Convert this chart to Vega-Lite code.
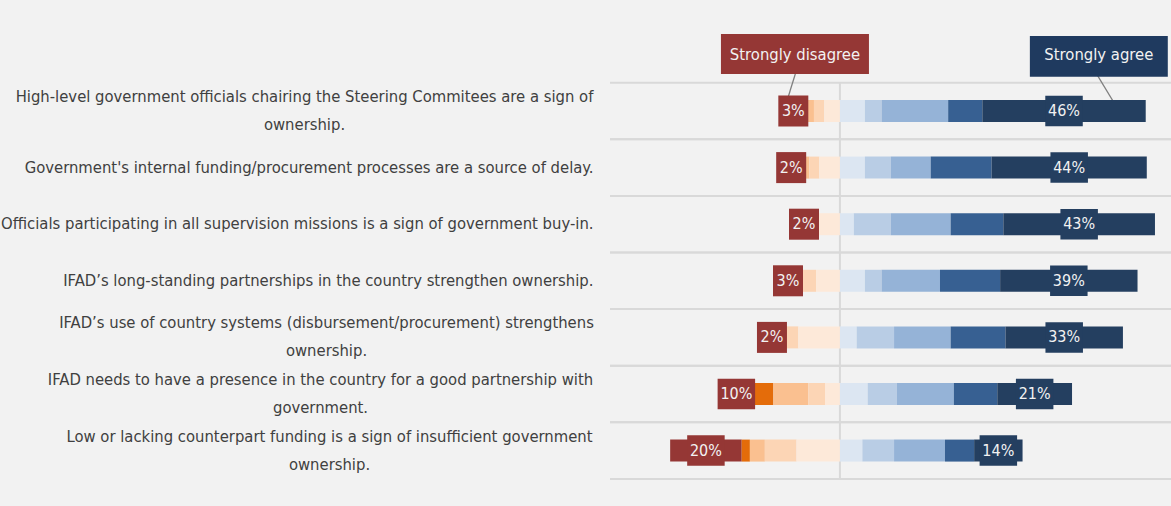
{
  "$schema": "https://vega.github.io/schema/vega-lite/v6.json",
  "width": 561,
  "height": 452.8,
  "autosize": {"type": "none"},
  "padding": {"left": 610, "top": 26.1, "right": 0, "bottom": 27},
  "background": "#F2F2F2",
  "config": {"view": {"stroke": null}},
  "datasets": {
    "survey": [
      {"q": "High-level government officials chairing the Steering Commitees are a sign of\nownership.", "level": 1, "pct": 3.0},
      {"q": "High-level government officials chairing the Steering Commitees are a sign of\nownership.", "level": 2, "pct": 2.6},
      {"q": "High-level government officials chairing the Steering Commitees are a sign of\nownership.", "level": 3, "pct": 1.7},
      {"q": "High-level government officials chairing the Steering Commitees are a sign of\nownership.", "level": 4, "pct": 2.9},
      {"q": "High-level government officials chairing the Steering Commitees are a sign of\nownership.", "level": 5, "pct": 4.4},
      {"q": "High-level government officials chairing the Steering Commitees are a sign of\nownership.", "level": 6, "pct": 7.0},
      {"q": "High-level government officials chairing the Steering Commitees are a sign of\nownership.", "level": 7, "pct": 4.7},
      {"q": "High-level government officials chairing the Steering Commitees are a sign of\nownership.", "level": 8, "pct": 18.7},
      {"q": "High-level government officials chairing the Steering Commitees are a sign of\nownership.", "level": 9, "pct": 9.6},
      {"q": "High-level government officials chairing the Steering Commitees are a sign of\nownership.", "level": 10, "pct": 45.9},
      {"q": "Government's internal funding/procurement processes are a source of delay.", "level": 1, "pct": 2.0},
      {"q": "Government's internal funding/procurement processes are a source of delay.", "level": 2, "pct": 3.1},
      {"q": "Government's internal funding/procurement processes are a source of delay.", "level": 3, "pct": 1.0},
      {"q": "Government's internal funding/procurement processes are a source of delay.", "level": 4, "pct": 2.8},
      {"q": "Government's internal funding/procurement processes are a source of delay.", "level": 5, "pct": 5.8},
      {"q": "Government's internal funding/procurement processes are a source of delay.", "level": 6, "pct": 7.0},
      {"q": "Government's internal funding/procurement processes are a source of delay.", "level": 7, "pct": 7.3},
      {"q": "Government's internal funding/procurement processes are a source of delay.", "level": 8, "pct": 11.2},
      {"q": "Government's internal funding/procurement processes are a source of delay.", "level": 9, "pct": 17.1},
      {"q": "Government's internal funding/procurement processes are a source of delay.", "level": 10, "pct": 43.6},
      {"q": "Officials participating in all supervision missions is a sign of government buy-in.", "level": 1, "pct": 2.0},
      {"q": "Officials participating in all supervision missions is a sign of government buy-in.", "level": 2, "pct": 3.0},
      {"q": "Officials participating in all supervision missions is a sign of government buy-in.", "level": 5, "pct": 6.1},
      {"q": "Officials participating in all supervision missions is a sign of government buy-in.", "level": 6, "pct": 3.9},
      {"q": "Officials participating in all supervision missions is a sign of government buy-in.", "level": 7, "pct": 10.4},
      {"q": "Officials participating in all supervision missions is a sign of government buy-in.", "level": 8, "pct": 16.8},
      {"q": "Officials participating in all supervision missions is a sign of government buy-in.", "level": 9, "pct": 14.8},
      {"q": "Officials participating in all supervision missions is a sign of government buy-in.", "level": 10, "pct": 42.6},
      {"q": "IFAD’s long-standing partnerships in the country strengthen ownership.", "level": 1, "pct": 3.0},
      {"q": "IFAD’s long-standing partnerships in the country strengthen ownership.", "level": 2, "pct": 2.6},
      {"q": "IFAD’s long-standing partnerships in the country strengthen ownership.", "level": 4, "pct": 3.8},
      {"q": "IFAD’s long-standing partnerships in the country strengthen ownership.", "level": 5, "pct": 6.7},
      {"q": "IFAD’s long-standing partnerships in the country strengthen ownership.", "level": 6, "pct": 7.0},
      {"q": "IFAD’s long-standing partnerships in the country strengthen ownership.", "level": 7, "pct": 4.7},
      {"q": "IFAD’s long-standing partnerships in the country strengthen ownership.", "level": 8, "pct": 16.4},
      {"q": "IFAD’s long-standing partnerships in the country strengthen ownership.", "level": 9, "pct": 16.9},
      {"q": "IFAD’s long-standing partnerships in the country strengthen ownership.", "level": 10, "pct": 38.6},
      {"q": "IFAD’s use of country systems (disbursement/procurement) strengthens\nownership.", "level": 1, "pct": 2.0},
      {"q": "IFAD’s use of country systems (disbursement/procurement) strengthens\nownership.", "level": 2, "pct": 3.1},
      {"q": "IFAD’s use of country systems (disbursement/procurement) strengthens\nownership.", "level": 4, "pct": 3.3},
      {"q": "IFAD’s use of country systems (disbursement/procurement) strengthens\nownership.", "level": 5, "pct": 11.7},
      {"q": "IFAD’s use of country systems (disbursement/procurement) strengthens\nownership.", "level": 6, "pct": 4.7},
      {"q": "IFAD’s use of country systems (disbursement/procurement) strengthens\nownership.", "level": 7, "pct": 10.5},
      {"q": "IFAD’s use of country systems (disbursement/procurement) strengthens\nownership.", "level": 8, "pct": 15.9},
      {"q": "IFAD’s use of country systems (disbursement/procurement) strengthens\nownership.", "level": 9, "pct": 15.4},
      {"q": "IFAD’s use of country systems (disbursement/procurement) strengthens\nownership.", "level": 10, "pct": 33.0},
      {"q": "IFAD needs to have a presence in the country for a good partnership with\ngovernment.", "level": 1, "pct": 10.0},
      {"q": "IFAD needs to have a presence in the country for a good partnership with\ngovernment.", "level": 2, "pct": 5.4},
      {"q": "IFAD needs to have a presence in the country for a good partnership with\ngovernment.", "level": 3, "pct": 9.8},
      {"q": "IFAD needs to have a presence in the country for a good partnership with\ngovernment.", "level": 4, "pct": 4.7},
      {"q": "IFAD needs to have a presence in the country for a good partnership with\ngovernment.", "level": 5, "pct": 4.2},
      {"q": "IFAD needs to have a presence in the country for a good partnership with\ngovernment.", "level": 6, "pct": 7.8},
      {"q": "IFAD needs to have a presence in the country for a good partnership with\ngovernment.", "level": 7, "pct": 8.2},
      {"q": "IFAD needs to have a presence in the country for a good partnership with\ngovernment.", "level": 8, "pct": 16.0},
      {"q": "IFAD needs to have a presence in the country for a good partnership with\ngovernment.", "level": 9, "pct": 12.2},
      {"q": "IFAD needs to have a presence in the country for a good partnership with\ngovernment.", "level": 10, "pct": 21.0},
      {"q": "Low or lacking counterpart funding is a sign of insufficient government\nownership.", "level": 1, "pct": 20.1},
      {"q": "Low or lacking counterpart funding is a sign of insufficient government\nownership.", "level": 2, "pct": 2.3},
      {"q": "Low or lacking counterpart funding is a sign of insufficient government\nownership.", "level": 3, "pct": 4.2},
      {"q": "Low or lacking counterpart funding is a sign of insufficient government\nownership.", "level": 4, "pct": 8.9},
      {"q": "Low or lacking counterpart funding is a sign of insufficient government\nownership.", "level": 5, "pct": 12.2},
      {"q": "Low or lacking counterpart funding is a sign of insufficient government\nownership.", "level": 6, "pct": 6.3},
      {"q": "Low or lacking counterpart funding is a sign of insufficient government\nownership.", "level": 7, "pct": 8.9},
      {"q": "Low or lacking counterpart funding is a sign of insufficient government\nownership.", "level": 8, "pct": 14.3},
      {"q": "Low or lacking counterpart funding is a sign of insufficient government\nownership.", "level": 9, "pct": 8.2},
      {"q": "Low or lacking counterpart funding is a sign of insufficient government\nownership.", "level": 10, "pct": 13.6}
    ],
    "callouts": [
      {"q": "header", "label": "Strongly disagree", "level": 1, "x": -12.64},
      {"q": "header", "label": "Strongly agree", "level": 10, "x": 72.73}
    ],
    "leaders": [
      {"line": "disagree", "q": "header", "x": -10.84},
      {"line": "disagree", "q": "High-level government officials chairing the Steering Commitees are a sign of\nownership.", "x": -15.76},
      {"line": "agree", "q": "header", "x": 68.77},
      {"line": "agree", "q": "High-level government officials chairing the Steering Commitees are a sign of\nownership.", "x": 78.4}
    ]
  },
  "layer": [
    {
      "data": {"name": "survey"},
      "transform": [{"filter": "datum.level == 1"}],
      "mark": {"type": "rule", "color": "#D9D9D9", "strokeWidth": 2},
      "encoding": {
        "y": {"field": "q", "type": "nominal", "bandPosition": 0,
          "scale": {"domain": ["header", "High-level government officials chairing the Steering Commitees are a sign of\nownership.", "Government's internal funding/procurement processes are a source of delay.", "Officials participating in all supervision missions is a sign of government buy-in.", "IFAD’s long-standing partnerships in the country strengthen ownership.", "IFAD’s use of country systems (disbursement/procurement) strengthens\nownership.", "IFAD needs to have a presence in the country for a good partnership with\ngovernment.", "Low or lacking counterpart funding is a sign of insufficient government\nownership."], "paddingInner": 0, "paddingOuter": 0},
          "axis": {
            "title": null, "domain": false, "ticks": false, "tickSize": 0, "grid": false,
            "labelExpr": "datum.value == 'header' ? '' : split(datum.value, '\\n')",
            "labelFont": "DejaVu Sans Condensed, sans-serif",
            "labelFontSize": 16.5, "labelColor": "#404040", "labelLimit": 0, "labelLineHeight": 28,
            "labelAlign": {"condition": {"test": "indexof(datum.value, '\\n') >= 0", "value": "center"}, "value": "right"},
            "labelOffset": {"condition": {"test": "indexof(datum.value, '\\n') >= 0", "value": -14}, "value": 0},
            "labelPadding": {"condition": [
              {"test": "indexof(datum.value, 'High-level') == 0", "value": 306},
              {"test": "indexof(datum.value, 'IFAD’s use') == 0", "value": 284},
              {"test": "indexof(datum.value, 'IFAD needs') == 0", "value": 290},
              {"test": "indexof(datum.value, 'Low or') == 0", "value": 281}
            ], "value": 17}
          }
        }
      }
    },
    {
      "data": {"name": "survey"},
      "transform": [{"filter": "datum.level == 1"}],
      "mark": {"type": "rule", "color": "#D9D9D9", "strokeWidth": 2},
      "encoding": {
        "y": {"field": "q", "type": "nominal", "bandPosition": 1}
      }
    },
    {
      "data": {"name": "survey"},
      "transform": [{"filter": "datum.level == 1"}],
      "mark": {"type": "rule", "color": "#D9D9D9", "strokeWidth": 2},
      "encoding": {
        "x": {"datum": 0, "type": "quantitative", "scale": {"domain": [-64.6, 93.0], "nice": false, "zero": false}, "axis": null},
        "y": {"field": "q", "type": "nominal", "bandPosition": 0},
        "y2": {"field": "q", "bandPosition": 1}
      }
    },
    {
      "data": {"name": "leaders"},
      "mark": {"type": "line", "color": "#7F7F7F", "strokeWidth": 1.3},
      "encoding": {
        "x": {"field": "x", "type": "quantitative"},
        "y": {"field": "q", "type": "nominal"},
        "detail": {"field": "line"}
      }
    },
    {
      "data": {"name": "survey"},
      "transform": [
        {"calculate": "datum.level <= 5 ? -datum.pct : datum.pct", "as": "signed"},
        {"calculate": "abs(datum.level - 5.5)", "as": "dist"},
        {"stack": "signed", "groupby": ["q"], "sort": [{"field": "dist", "order": "ascending"}], "as": ["x0", "x1"], "offset": "zero"}
      ],
      "mark": {"type": "bar", "size": 22},
      "encoding": {
        "x": {"field": "x0", "type": "quantitative"},
        "x2": {"field": "x1"},
        "y": {"field": "q", "type": "nominal"},
        "color": {"field": "level", "type": "ordinal", "legend": null,
          "scale": {"domain": [1, 2, 3, 4, 5, 6, 7, 8, 9, 10], "range": ["#953735", "#E46C0A", "#FAC090", "#FCD5B5", "#FDE9D9", "#DCE6F2", "#B9CDE5", "#95B3D7", "#376092", "#243F60"]}}
      }
    },
    {
      "data": {"name": "survey"},
      "transform": [
        {"calculate": "datum.level <= 5 ? -datum.pct : datum.pct", "as": "signed"},
        {"calculate": "abs(datum.level - 5.5)", "as": "dist"},
        {"stack": "signed", "groupby": ["q"], "sort": [{"field": "dist", "order": "ascending"}], "as": ["x0", "x1"], "offset": "zero"},
        {"filter": "datum.level == 1 || datum.level == 10"},
        {"calculate": "(datum.x0 + datum.x1) / 2", "as": "mid"},
        {"calculate": "format(datum.pct, '.0f') + '%'", "as": "lab"}
      ],
      "layer": [
        {
          "mark": {"type": "point", "filled": true, "opacity": 1, "size": 1406, "strokeWidth": 0},
          "encoding": {
            "x": {"field": "mid", "type": "quantitative"},
            "y": {"field": "q", "type": "nominal"},
            "shape": {"condition": {"test": "datum.pct >= 9.5", "value": "M-1,-0.813L1,-0.813L1,0.813L-1,0.813Z"}, "value": "M-0.8,-0.827L0.8,-0.827L0.8,0.827L-0.8,0.827Z"},
            "fill": {"condition": {"test": "datum.level == 1", "value": "#953735"}, "value": "#243F60"}
          }
        },
        {
          "mark": {"type": "text", "font": "DejaVu Sans Condensed, sans-serif", "fontSize": 16, "color": "#F2F2F2", "align": "center", "baseline": "middle"},
          "encoding": {
            "x": {"field": "mid", "type": "quantitative"},
            "y": {"field": "q", "type": "nominal"},
            "text": {"field": "lab"}
          }
        }
      ]
    },
    {
      "data": {"name": "callouts"},
      "layer": [
        {
          "mark": {"type": "point", "filled": true, "opacity": 1, "size": 21904, "strokeWidth": 0},
          "encoding": {
            "x": {"field": "x", "type": "quantitative"},
            "y": {"field": "q", "type": "nominal"},
            "shape": {"condition": {"test": "datum.level == 1", "value": "M-1,-0.276L1,-0.276L1,0.265L-1,0.265Z"}, "value": "M-0.932,-0.249L0.932,-0.249L0.932,0.301L-0.932,0.301Z"},
            "fill": {"condition": {"test": "datum.level == 1", "value": "#953735"}, "value": "#1F3A5F"}
          }
        },
        {
          "mark": {"type": "text", "font": "DejaVu Sans Condensed, sans-serif", "fontSize": 16.5, "color": "#F2F2F2", "align": "center", "baseline": "middle", "dy": 1},
          "encoding": {
            "x": {"field": "x", "type": "quantitative"},
            "y": {"field": "q", "type": "nominal"},
            "text": {"field": "label"}
          }
        }
      ]
    }
  ]
}
